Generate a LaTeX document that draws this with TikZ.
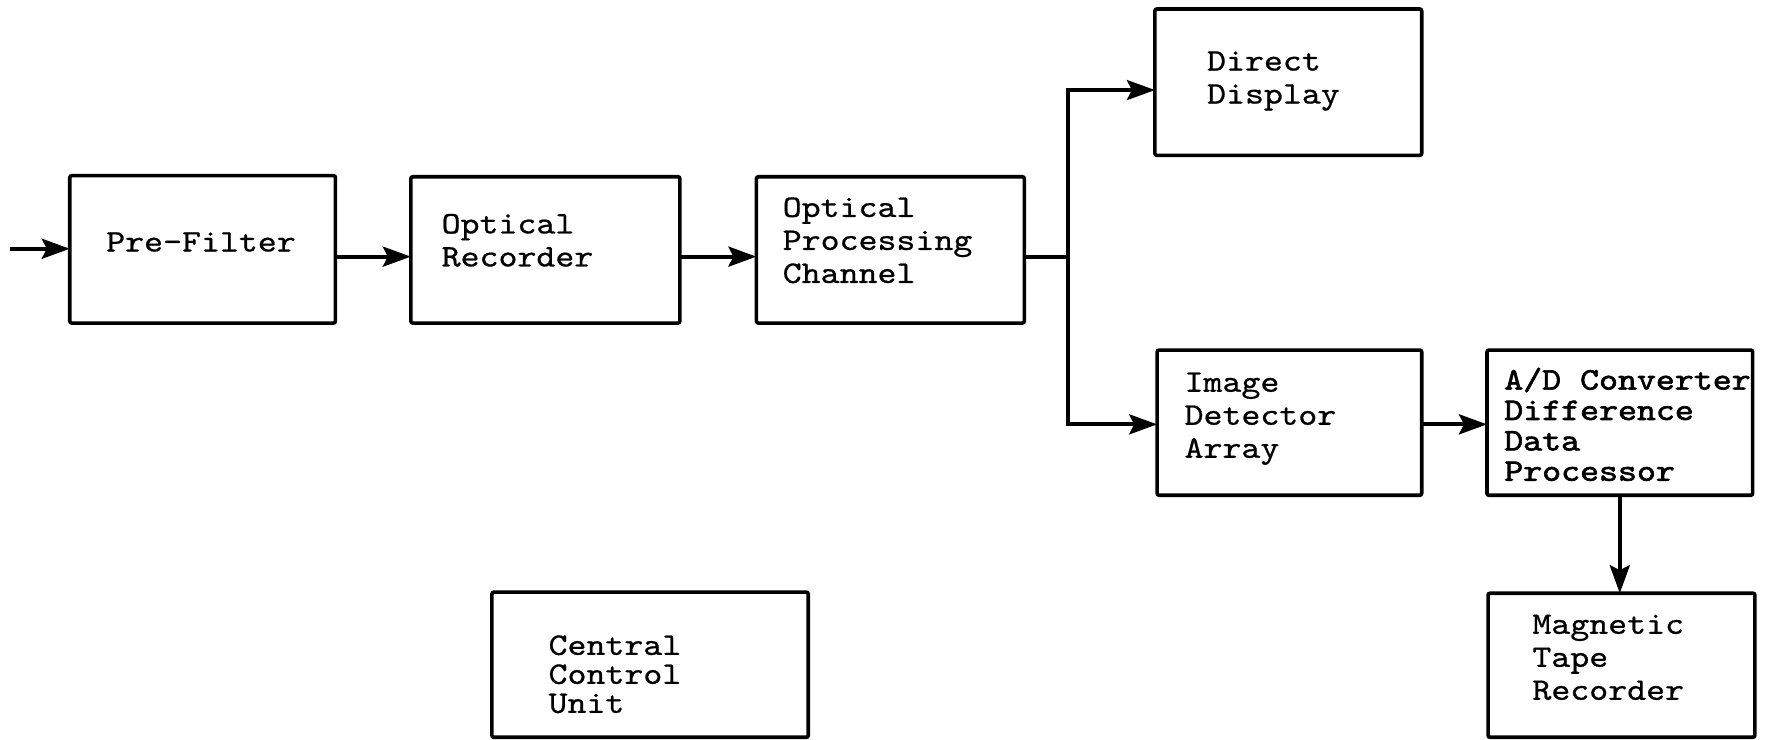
\documentclass[tikz,border=0pt]{standalone}
\usepackage{fontspec}
\newfontfamily\tw[Extension=.otf, FakeStretch=1.15, FakeBold=0.7]{lmmono10-regular}
\newfontfamily\twb[Extension=.otf, FakeStretch=1.15, FakeBold=2]{lmmono10-regular}
\usetikzlibrary{arrows.meta}
\def\pxu{0.5628pt}
\tikzset{
  blk/.style={draw, line width=1.8pt, rounded corners=1pt, inner sep=0pt, outer sep=0pt},
  lbl/.style={anchor=west, align=left, inner sep=0pt, font=\fontsize{15.7pt}{16.5pt}\tw},
  wire/.style={line width=1.9pt},
  arr/.style={line width=1.9pt, -{Stealth[length=14pt,width=10pt,inset=2.5pt]}}
}
\begin{document}
\begin{tikzpicture}[x=\pxu, y=-\pxu]
\useasboundingbox (0,0) rectangle (1568,657);
% boxes
\node[blk, minimum width=236*\pxu, minimum height=131*\pxu] (pf)  at (180,221.5) {};
\node[blk, minimum width=239*\pxu, minimum height=130*\pxu] (or)  at (484.5,222) {};
\node[blk, minimum width=238*\pxu, minimum height=130*\pxu] (opc) at (791,222) {};
\node[blk, minimum width=237*\pxu, minimum height=130*\pxu] (dd)  at (1144.5,73) {};
\node[blk, minimum width=235*\pxu, minimum height=129*\pxu] (ida) at (1145.5,375.5) {};
\node[blk, minimum width=236*\pxu, minimum height=129*\pxu] (ad)  at (1439,375.5) {};
\node[blk, minimum width=237*\pxu, minimum height=128*\pxu] (mtr) at (1440.5,591) {};
\node[blk, minimum width=281*\pxu, minimum height=129*\pxu] (ccu) at (577.5,590.5) {};
% texts
\node[lbl] (tpf)  at (94,215)    {Pre-Filter};
\node[lbl] (tor)  at (392,213.5) {Optical\\Recorder};
\node[lbl] (topc) at (695,213.5) {Optical\\Processing\\Channel};
\node[lbl] (tdd)  at (1072,72)   {Direct\\Display};
\node[lbl] (tida) at (1052,372)  {Image\\Detector\\Array};
\node[lbl, font=\fontsize{15.7pt}{15.2pt}\twb] (tad) at (1336,377) {A/D Converter\\Difference\\Data\\Processor};
\node[lbl] (tmtr) at (1361,584)  {Magnetic\\Tape\\Recorder};
\node[lbl, font=\fontsize{15.7pt}{14.5pt}\tw] (tccu) at (487,599) {Central\\Control\\Unit};
% connectors
\coordinate (in) at (9,221);
\coordinate (ymain) at (0,228);
\coordinate (br) at (949,228);
\coordinate (ytop) at (0,80);
\coordinate (ybot) at (0,377);
\draw[arr] (in) -- (pf.west |- in);
\draw[arr] (pf.east |- ymain) -- (or.west |- ymain);
\draw[arr] (or.east |- ymain) -- (opc.west |- ymain);
\draw[wire] (opc.east |- ymain) -- (br);
\draw[arr] (br) -- (br |- ytop) -- (dd.west |- ytop);
\draw[arr] (br) -- (br |- ybot) -- (ida.west |- ybot);
\draw[arr] (ida.east |- ybot) -- (ad.west |- ybot);
\draw[arr] (ad.south) -- (ad.south |- mtr.north);
\end{tikzpicture}
\end{document}
